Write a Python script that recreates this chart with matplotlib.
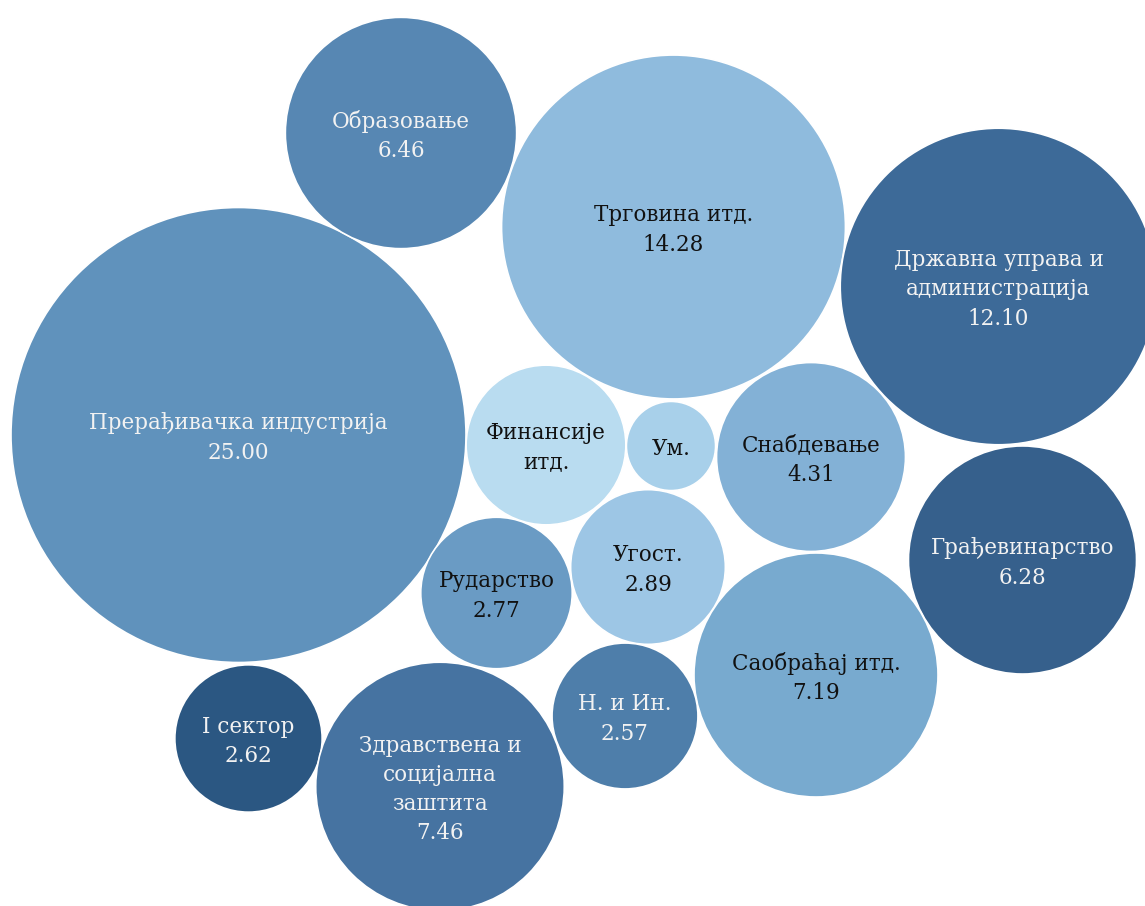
import numpy as np
import matplotlib
matplotlib.use("Agg")
import matplotlib.pyplot as plt
from matplotlib.patches import Circle

# ---- data ----
sectors = ["Прерађивачка индустрија", "Образовање", "Трговина итд.",
           "Државна управа и\nадминистрација", "Финансије\nитд.", "Ум.",
           "Снабдевање", "Грађевинарство", "Угост.", "Рударство",
           "Саобраћај итд.", "Н. и Ин.", "I сектор",
           "Здравствена и\nсоцијална\nзаштита"]
values = [25.00, 6.46, 14.28, 12.10, 3.08, 0.96, 4.31, 6.28, 2.89, 2.77,
          7.19, 2.57, 2.62, 7.46]
value_labels = ["25.00", "6.46", "14.28", "12.10", "", "", "4.31", "6.28",
                "2.89", "2.77", "7.19", "2.57", "2.62", "7.46"]

# ---- layout (pixel positions of bubble centres) ----
center_x = [238.5, 401, 673.5, 998.5, 546, 671, 811, 1022.5, 648, 496.5,
            816, 625, 248.5, 440]
center_y = [435, 133, 227, 286.5, 445, 446, 457, 560, 567, 593,
            675, 716, 738.5, 786.5]

# ---- style ----
fill_colors = ["#6092BC", "#5787B3", "#8FBBDD", "#3D6A98", "#B9DCF0", "#A8D0EA",
               "#83B1D6", "#36608C", "#9DC6E5", "#6A9BC4", "#78AACF", "#4E7EAA",
               "#2B5782", "#4673A1"]
text_colors = ["#F2F2F2", "#F2F2F2", "#111111", "#F2F2F2", "#111111", "#111111",
               "#111111", "#F2F2F2", "#111111", "#111111", "#111111", "#F2F2F2",
               "#F2F2F2", "#F2F2F2"]
scale = 227.5 / np.sqrt(25.0)   # pixels per sqrt(value)

fig = plt.figure(figsize=(11.45, 9.06), dpi=100)
ax = fig.add_axes([0, 0, 1, 1])
ax.set_xlim(0, 1145)
ax.set_ylim(906, 0)
ax.set_aspect("equal")
ax.axis("off")

for name, val, vlab, x, y, fc, tc in zip(sectors, values, value_labels,
                                         center_x, center_y, fill_colors, text_colors):
    r = scale * np.sqrt(val)
    ax.add_patch(Circle((x, y), r, facecolor=fc, edgecolor="white", linewidth=1.2))
    label = name if vlab == "" else name + "\n" + vlab
    ax.text(x, y + 3, label, ha="center", va="center", color=tc,
            family="DejaVu Serif", fontsize=15.5, linespacing=1.42)

fig.savefig("out.png", dpi=100)
